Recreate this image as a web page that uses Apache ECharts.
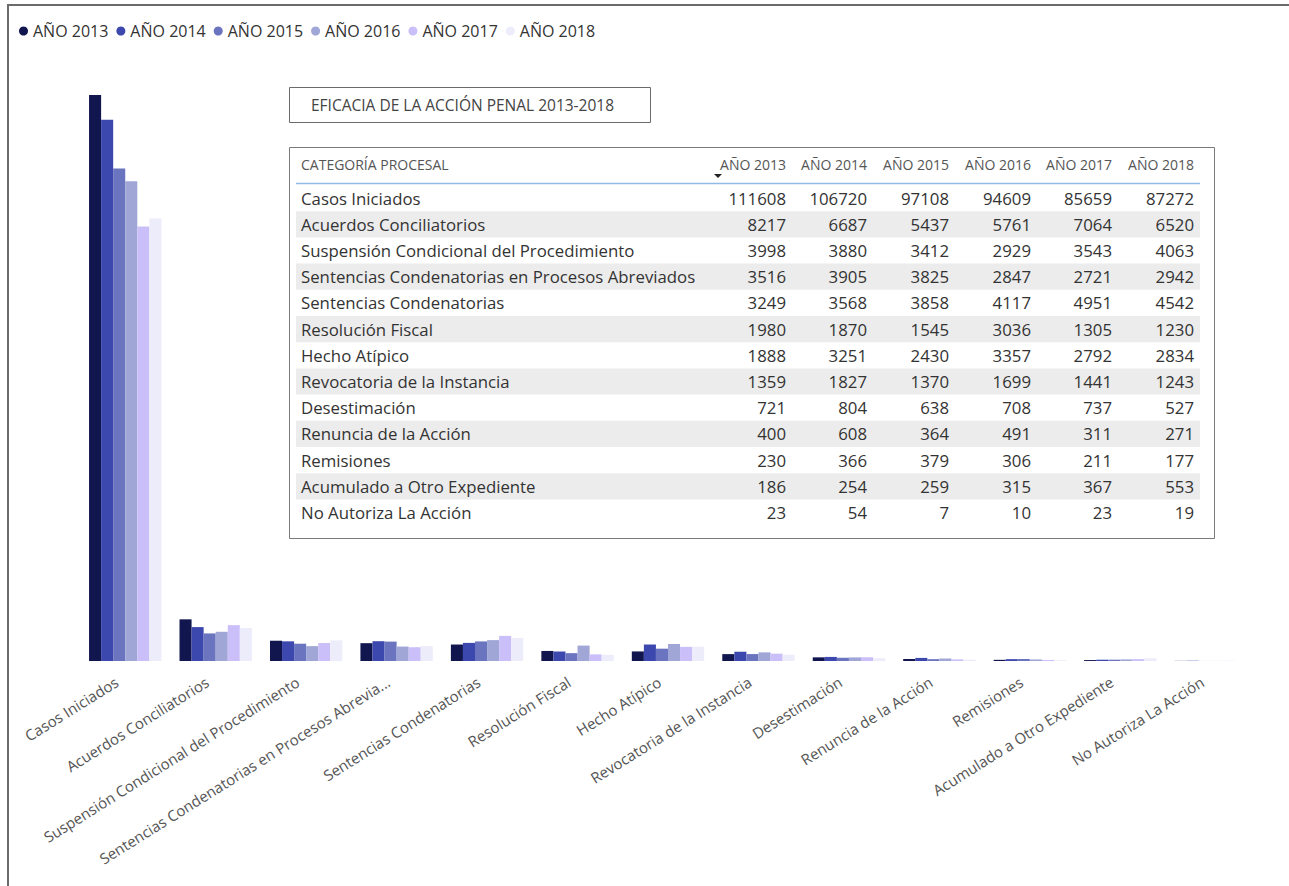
<!DOCTYPE html>
<html>
<head>
<meta charset="utf-8">
<script src="https://cdn.jsdelivr.net/npm/echarts@6/dist/echarts.min.js"></script>
<style>
  html, body { margin: 0; padding: 0; background: #fff; }
  #frame { position: absolute; left: 7px; top: 4px; width: 1282px; height: 882px;
           border-left: 2px solid #6b6b6b; border-top: 2px solid #6b6b6b; }
  #main { position: absolute; left: 0; top: 0; width: 1289px; height: 886px; }
</style>
</head>
<body>
<div id="frame"></div>
<div id="main"></div>
<script>
// categorías procesales
var categories = [
  "Casos Iniciados",
  "Acuerdos Conciliatorios",
  "Suspensión Condicional del Procedimiento",
  "Sentencias Condenatorias en Procesos Abreviados",
  "Sentencias Condenatorias",
  "Resolución Fiscal",
  "Hecho Atípico",
  "Revocatoria de la Instancia",
  "Desestimación",
  "Renuncia de la Acción",
  "Remisiones",
  "Acumulado a Otro Expediente",
  "No Autoriza La Acción"
];
var years = ["AÑO 2013", "AÑO 2014", "AÑO 2015", "AÑO 2016", "AÑO 2017", "AÑO 2018"];
var y2013 = [111608, 8217, 3998, 3516, 3249, 1980, 1888, 1359, 721, 400, 230, 186, 23];
var y2014 = [106720, 6687, 3880, 3905, 3568, 1870, 3251, 1827, 804, 608, 366, 254, 54];
var y2015 = [97108, 5437, 3412, 3825, 3858, 1545, 2430, 1370, 638, 364, 379, 259, 7];
var y2016 = [94609, 5761, 2929, 2847, 4117, 3036, 3357, 1699, 708, 491, 306, 315, 10];
var y2017 = [85659, 7064, 3543, 2721, 4951, 1305, 2792, 1441, 737, 311, 211, 367, 23];
var y2018 = [87272, 6520, 4063, 2942, 4542, 1230, 2834, 1243, 527, 271, 177, 553, 19];
var colors = ["#11164f", "#3d48ae", "#6b74be", "#a0a6d6", "#cabff8", "#edecfb"];

var seriesData = [y2013, y2014, y2015, y2016, y2017, y2018];
var font = "'Open Sans', 'Noto Sans', sans-serif";

// tabla superpuesta (elementos graphic)
function buildTable() {
  var els = [];
  var tx = 289, ty = 147, tw = 925, th = 391;
  var colRight = [786, 867, 949, 1031, 1112, 1194];
  var rowTop = 185, rowH = 26.2;
  // titulo
  els.push({ type: "rect", shape: { x: 289.5, y: 87.5, width: 361, height: 35 },
    style: { fill: "#fff", stroke: "#6b6b6b", lineWidth: 1 } });
  els.push({ type: "text", x: 311, y: 105,
    style: { text: "EFICACIA DE LA ACCIÓN PENAL 2013-2018", font: "15.5px " + font,
      fill: "#444", verticalAlign: "middle" } });
  // caja de tabla
  els.push({ type: "rect", shape: { x: tx + 0.5, y: ty + 0.5, width: tw, height: th },
    style: { fill: "#fff", stroke: "#7a7a7a", lineWidth: 1 } });
  els.push({ type: "text", x: 301, y: 164,
    style: { text: "CATEGORÍA PROCESAL", font: "14px " + font, fill: "#555", verticalAlign: "middle" } });
  years.forEach(function (yr, j) {
    els.push({ type: "text", x: colRight[j], y: 164,
      style: { text: yr, font: "14px " + font, fill: "#555", align: "right", verticalAlign: "middle" } });
  });
  els.push({ type: "polygon", shape: { points: [[714, 174], [722, 174], [718, 178]] },
    style: { fill: "#222" } });
  els.push({ type: "line", shape: { x1: 296, y1: 183.5, x2: 1200, y2: 183.5 },
    style: { stroke: "#8fbbe6", lineWidth: 1.5 } });
  categories.forEach(function (c, i) {
    var top = rowTop + i * rowH;
    if (i % 2 === 1) {
      els.push({ type: "rect", shape: { x: 296, y: top, width: 904, height: rowH },
        style: { fill: "#ececec" } });
    }
    els.push({ type: "text", x: 301, y: top + rowH / 2,
      style: { text: c, font: "16.8px " + font, fill: "#333", verticalAlign: "middle" } });
    seriesData.forEach(function (arr, j) {
      els.push({ type: "text", x: colRight[j], y: top + rowH / 2,
        style: { text: String(arr[i]), font: "16.8px " + font, fill: "#333",
          align: "right", verticalAlign: "middle" } });
    });
  });
  return els;
}

var chart = echarts.init(document.getElementById("main"), null, { renderer: "svg" });
chart.setOption({
  animation: false,
  color: colors,
  legend: {
    left: 14, top: 18,
    icon: "circle", itemWidth: 9, itemHeight: 9, itemGap: 8,
    textStyle: { fontSize: 16, color: "#333", fontFamily: font },
    data: years
  },
  grid: { left: 80, right: 33, top: 95, bottom: 225 },
  xAxis: {
    type: "category",
    data: categories,
    axisLine: { show: false },
    axisTick: { show: false },
    axisLabel: {
      interval: 0, rotate: 32, margin: 14, padding: [0, 10, 0, 0],
      fontSize: 15, color: "#555", fontFamily: font,
      formatter: function (v) { return v.length > 44 ? v.slice(0, 44) + "..." : v; }
    }
  },
  yAxis: { type: "value", min: 0, max: "dataMax", show: false, splitLine: { show: false } },
  series: seriesData.map(function (arr, j) {
    return { name: years[j], type: "bar", data: arr, barGap: "0%", barCategoryGap: "20%" };
  }),
  graphic: buildTable()
});
</script>
</body>
</html>
